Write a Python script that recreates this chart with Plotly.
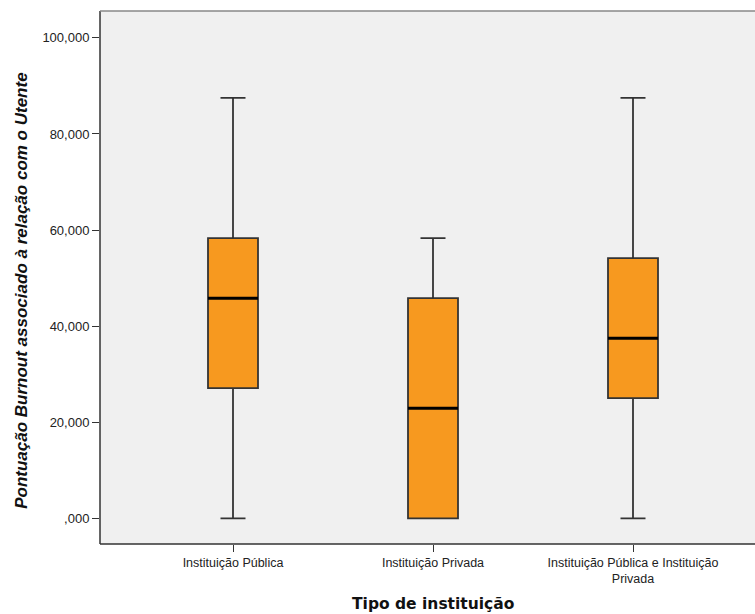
import plotly.graph_objects as go

# Burnout score (relation with service users) by type of institution
categories = ["Instituição Pública", "Instituição Privada",
              "Instituição Pública e Instituição<br>Privada"]
lower_whisker = [0.0, 0.0, 0.0]
q1_values = [27.08, 0.0, 25.0]
medians = [45.83, 22.92, 37.5]
q3_values = [58.33, 45.83, 54.17]
upper_whisker = [87.5, 58.33, 87.5]

y_ticks = [0, 20, 40, 60, 80, 100]
y_tick_labels = [",000", "20,000", "40,000", "60,000", "80,000", "100,000"]

positions = list(range(len(categories)))
box_width = 0.25

fig = go.Figure()
fig.add_trace(go.Box(
    x=positions,
    q1=q1_values, median=medians, q3=q3_values,
    lowerfence=lower_whisker, upperfence=upper_whisker,
    width=box_width, whiskerwidth=0.5,
    fillcolor="#F7991F",
    line=dict(color="#333333", width=1.8),
    boxpoints=False, showlegend=False, hoverinfo="skip",
))

# heavy median bars across each box
for xp, med in zip(positions, medians):
    fig.add_trace(go.Scatter(
        x=[xp - box_width / 2, xp + box_width / 2], y=[med, med],
        mode="lines", line=dict(color="black", width=3),
        showlegend=False, hoverinfo="skip",
    ))

fig.update_layout(
    width=755, height=614,
    margin=dict(l=100, r=0, t=11, b=70),
    paper_bgcolor="white",
    plot_bgcolor="#F0F0F0",
    xaxis=dict(
        range=[-0.665, 2.61], tickmode="array",
        tickvals=positions, ticktext=categories,
        ticks="outside", ticklen=7, tickcolor="#333", tickwidth=1,
        showgrid=False, zeroline=False, showline=False,
        tickfont=dict(family="Liberation Sans, Arial", size=12.5, color="#222"),
    ),
    yaxis=dict(
        range=[-5.35, 105.6], tickmode="array",
        tickvals=y_ticks, ticktext=y_tick_labels,
        ticks="outside", ticklen=7, tickcolor="#333", tickwidth=1,
        showgrid=False, zeroline=False, showline=False,
        tickfont=dict(family="Liberation Sans, Arial", size=13, color="#222"),
    ),
    annotations=[
        dict(text="<b>Tipo de instituição</b>", x=1, xref="x",
             y=-0.113, yref="paper", yanchor="middle", showarrow=False,
             font=dict(family="DejaVu Sans", size=15.5, color="#111")),
        dict(text="<b><i>Pontuação Burnout associado à relação com o Utente</i></b>",
             x=-78 / 655, xref="paper", xanchor="center", y=0.475, yref="paper",
             yanchor="middle", textangle=-90, showarrow=False,
             font=dict(family="Liberation Sans, Arial", size=17, color="#111")),
    ],
    shapes=[
        dict(type="line", xref="paper", yref="paper", x0=0, x1=0, y0=0, y1=1,
             line=dict(color="#333", width=1.5)),
        dict(type="line", xref="paper", yref="paper", x0=0, x1=1, y0=0, y1=0,
             line=dict(color="#333", width=1.5)),
        dict(type="line", xref="paper", yref="paper", x0=0, x1=1, y0=1, y1=1,
             line=dict(color="#888", width=1.5)),
    ],
)

fig.write_html("out.html")
